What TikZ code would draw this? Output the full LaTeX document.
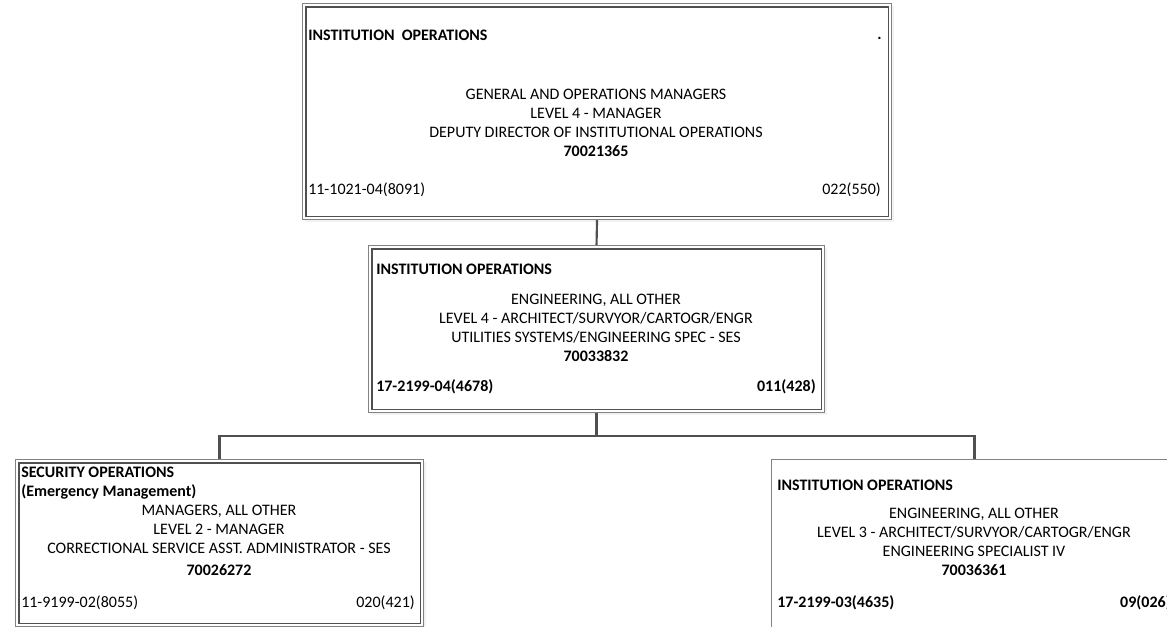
\documentclass[tikz,border=0pt]{standalone}
\usepackage{fontspec}
\setmainfont{Carlito}
\usetikzlibrary{positioning, calc, shadows}

\newlength{\unitpx}
\setlength{\unitpx}{0.75pt}
\definecolor{linegray}{RGB}{80, 80, 80}
\definecolor{edgegray}{RGB}{130, 130, 130}

\tikzset{
  posbox/.style={draw=edgegray, line width=0.8pt, fill=white, inner sep=0pt,
    anchor=north west, drop shadow={shadow xshift=2pt, shadow yshift=-2pt, fill=black!10}},
  innerbox/.style={draw=linegray, line width=0.8pt},
  txt/.style={inner sep=0pt, font=\fontsize{12}{14.2}\selectfont},
  title/.style={txt, align=center},
  link/.style={draw=linegray, line width=1.6pt}
}

\begin{document}
\begin{tikzpicture}[x=\unitpx, y=-\unitpx]
  \path[use as bounding box, clip] (0,0) rectangle (1167,627);

  % position boxes
  \node[posbox, minimum width=589\unitpx, minimum height=216\unitpx] (top) at (302,3) {};
  \draw[innerbox] ([shift={(4,4)}]top.north west) rectangle ([shift={(-4,-4)}]top.south east);
  \node[posbox, minimum width=456\unitpx, minimum height=167\unitpx] (mid) at (368,245) {};
  \draw[innerbox] ([shift={(4,4)}]mid.north west) rectangle ([shift={(-4,-4)}]mid.south east);
  \node[posbox, minimum width=408\unitpx, minimum height=167\unitpx] (left) at (15,459) {};
  \draw[innerbox] ([shift={(4,4)}]left.north west) rectangle ([shift={(-4,-4)}]left.south east);
  \node[posbox, minimum width=406\unitpx, minimum height=190\unitpx] (right) at (771,459) {};

  % connectors
  \coordinate (bus) at ($(mid.south)+(0,23)$);
  \draw[link] (top.south) -- (mid.north);
  \draw[link] (mid.south) -- (bus);
  \draw[link] (left.north) |- (bus) -| (right.north);

  % top
  \node[txt, anchor=west] (tophead) at (308,35) {\textbf{INSTITUTION\ \ OPERATIONS}};
  \node[txt, anchor=base east] (topdot) at (882,40) {\textbf{.}};
  \node[title] (toptitle) at (596,123) {GENERAL AND OPERATIONS MANAGERS\\LEVEL 4 - MANAGER\\
    DEPUTY DIRECTOR OF INSTITUTIONAL OPERATIONS\\\textbf{70021365}};
  \node[txt, anchor=west] (topsoc) at (308,190) {11-1021-04(8091)};
  \node[txt, anchor=east] (topfte) at (881,190) {022(550)};

  % middle
  \node[txt, anchor=west] (midhead) at (376,269) {\textbf{INSTITUTION OPERATIONS}};
  \node[title] (midtitle) at (596,328) {ENGINEERING, ALL OTHER\\LEVEL 4 - ARCHITECT/SURVYOR/CARTOGR/ENGR\\
    UTILITIES SYSTEMS/ENGINEERING SPEC - SES\\\textbf{70033832}};
  \node[txt, anchor=west] (midsoc) at (376,387) {\textbf{17-2199-04(4678)}};
  \node[txt, anchor=east] (midfte) at (816,387) {\textbf{011(428)}};

  % bottom left
  \node[txt, align=left, anchor=west] (lefthead) at (21,483) {\textbf{SECURITY OPERATIONS}\\\textbf{(Emergency Management)}};
  \node[title] (lefttitle) at (219,529) {MANAGERS, ALL OTHER\\LEVEL 2 - MANAGER\\
    CORRECTIONAL SERVICE ASST. ADMINISTRATOR - SES};
  \node[txt] (leftnum) at (219,570) {\textbf{70026272}};
  \node[txt, anchor=west] (leftsoc) at (21,603) {11-9199-02(8055)};
  \node[txt, anchor=east] (leftfte) at (415,603) {020(421)};

  % bottom right
  \node[txt, anchor=west] (righthead) at (777,485) {\textbf{INSTITUTION OPERATIONS}};
  \node[title] (righttitle) at (974,542) {ENGINEERING, ALL OTHER\\LEVEL 3 - ARCHITECT/SURVYOR/CARTOGR/ENGR\\
    ENGINEERING SPECIALIST IV\\\textbf{70036361}};
  \node[txt, anchor=west] (rightsoc) at (777,603) {\textbf{17-2199-03(4635)}};
  \node[txt, anchor=east] (rightfte) at (1171,603) {\textbf{09(026)}};
\end{tikzpicture}
\end{document}
